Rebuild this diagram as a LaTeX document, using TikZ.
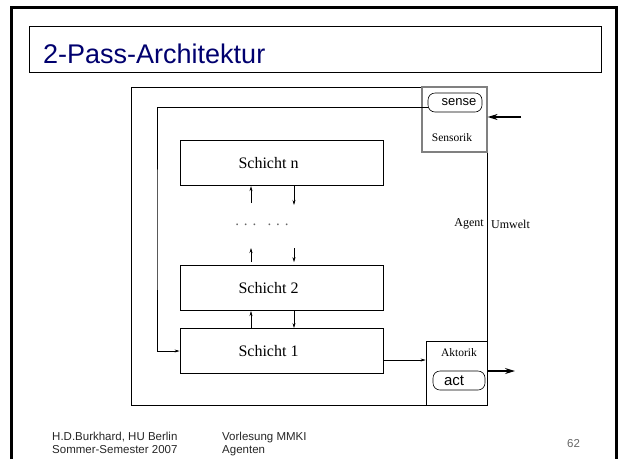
\documentclass[tikz,border=0pt]{standalone}
\usepackage{fontspec}
\setmainfont{Liberation Serif}
\setsansfont{Liberation Sans}
\usetikzlibrary{arrows.meta,positioning}
\definecolor{titleblue}{RGB}{0,0,110}

\begin{document}
\begin{tikzpicture}[
      x=1pt, y=-1pt,
      layer/.style={
          rectangle, draw, line width=0.9pt,
          minimum width=203pt, minimum height=45pt,
          inner sep=0pt,
          font=\fontsize{16}{18}\selectfont,
          execute at end node={\hspace*{26pt}}   % text sits a bit left of centre
        },
      pill/.style={
          rectangle, draw, rounded corners=7pt, line width=0.6pt,
          minimum height=19pt, inner sep=0pt,
          font=\sffamily\fontsize{13}{15}\selectfont
        },
      iobox/.style={rectangle, draw, inner sep=0pt},
      lbl/.style={inner sep=0pt, font=\fontsize{11.5}{13}\selectfont},
      foot/.style={inner sep=0pt, align=left, text=black!85,
          font=\sffamily\fontsize{11.5}{13.5}\selectfont},
      small arrow/.style={-{Stealth[length=5pt,width=3pt]}, line width=0.6pt},
      big arrow/.style={-{Stealth[length=10pt,width=6pt]}, line width=1.2pt},
    ]
    \useasboundingbox (0,0) rectangle (620,459);

    % slide frame and title
    \draw[line width=3pt] (11.5,459) -- (11.5,7.5) -- (616.5,7.5) -- (616.5,459);
    \node[rectangle, draw, line width=0.8pt, minimum width=572pt, minimum height=46pt,
          anchor=north west] (title) at (29,26) {};
    \node[inner sep=0pt, anchor=base west, text=titleblue,
          font=\sffamily\fontsize{27}{30}\selectfont] (titletext) at (43,63) {2-Pass-Architektur};

    % agent with sensor and actor parts
    \node[rectangle, draw, line width=0.9pt, minimum width=356pt, minimum height=318pt]
          (agent) at (309,246) {};
    \node[iobox, draw=black!50, line width=1.2pt, minimum width=65pt, minimum height=65pt]
          (sensorik) at (454.5,119.5) {};
    \node[iobox, line width=0.7pt, minimum width=61pt, minimum height=64pt]
          (aktorik) at (456.5,373) {};
    \node[pill, minimum width=54pt] (sense) at (455,102.5) {\hspace*{8pt}sense};
    \node[lbl] (senslbl) at (452,138) {Sensorik};
    \node[lbl] (aktlbl) at (459,353) {Aktorik};
    \node[pill, minimum width=52pt, font=\sffamily\fontsize{15}{17}\selectfont]
          (act) at (459,380.5) {act\hspace*{10pt}};

    % layers
    \node[layer] (s1) at (281.5,351) {Schicht 1};
    \node[layer, above=17pt of s1] (s2) {Schicht 2};
    \node[layer, above=79pt of s2] (sn) {Schicht n};
    \node[inner sep=0pt, text=black!60, font=\fontsize{15}{17}\selectfont]
          (dots) at (262,225) {. . .\hspace{11pt}. . .};

    \node[lbl, anchor=east, font=\fontsize{12}{14}\selectfont] (agentlbl) at (484,224) {Agent};
    \node[lbl, anchor=west, font=\fontsize{12}{14}\selectfont] (umweltlbl) at (491,224) {Umwelt};

    % passes between the layers
    \draw[small arrow] ([xshift=-30.5pt]s1.north) -- ([xshift=-30.5pt]s2.south);
    \draw[small arrow] ([xshift=12.5pt]s2.south) -- ([xshift=12.5pt]s1.north);
    \coordinate (up2) at (251,248);
    \coordinate (dn2) at (294,248);
    \coordinate (upn) at (251,203);
    \coordinate (dnn) at (294,205);
    \draw[small arrow, shorten <=3pt] (up2 |- s2.north) -- (up2);
    \draw[small arrow, shorten >=3pt] (dn2) -- (dn2 |- s2.north);
    \draw[small arrow] (upn) -- (upn |- sn.south);
    \draw[small arrow] (dnn |- sn.south) -- (dnn);

    % sensing goes down to the lowest layer, acting leaves from it
    \coordinate (fb) at (157,230);
    \draw[small arrow] (sense.190) -| (fb) |- (s1.west);
    \draw[small arrow] ([yshift=-9pt]s1.east) -- ([yshift=-9pt]s1.east -| aktorik.west);

    \coordinate (inbeg) at (521,117);
    \coordinate (outend) at (515,371);
    \draw[big arrow] (inbeg) -- (inbeg -| sensorik.east);
    \draw[big arrow] (outend -| aktorik.east) -- (outend);

    % footer
    \node[foot, anchor=north west] (author) at (52,431.5) {H.D.Burkhard, HU Berlin\\Sommer-Semester 2007};
    \node[foot, anchor=north west] (lecture) at (222,431.5) {Vorlesung MMKI\\Agenten};
    \node[foot, anchor=base west, text=black!60] (pagenum) at (567,447) {62};
  \end{tikzpicture}
\end{document}
